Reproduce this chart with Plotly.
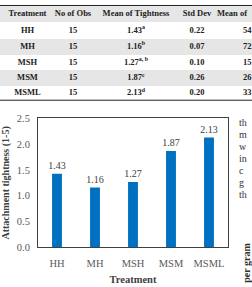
import plotly.graph_objects as go

# ---- data ----
treatments = ["HH", "MH", "MSH", "MSM", "MSML"]
tightness = [1.43, 1.16, 1.27, 1.87, 2.13]
n_obs = ["15", "15", "15", "15", "15"]
mean_labels = ["1.43<sup>a</sup>", "1.16<sup>b</sup>", "1.27<sup>a, b</sup>", "1.87<sup>c</sup>", "2.13<sup>d</sup>"]
std_dev = ["0.22", "0.07", "0.10", "0.26", "0.20"]
mean_other = ["54", "72", "15", "26", "33"]
table_header = ["Treatment", "No of Obs", "Mean of Tightness", "Std Dev", "Mean of"]
side_text = ["th", "m", "w", "in", "c", "g", "th"]

# ---- layout helpers (positions in table-axis units = pixels) ----
W, H = 252, 287
TABLE_H = 99
row_edges = [0, 18, 35, 51.5, 68, 84.5, 99]
col_x = [27.5, 73, 136, 197, 217]
SERIF = "Liberation Serif"
GRAY = "#e6e6e6"

fig = go.Figure()

# table row shading
row_shade = [[1], [0], [1], [0], [1], [0]]
fig.add_trace(go.Heatmap(
    z=row_shade, x=[0, W], y=row_edges,
    colorscale=[[0, "white"], [1, GRAY]], showscale=False,
    hoverinfo="skip", xaxis="x2", yaxis="y2",
))

row_mid = [(row_edges[i] + row_edges[i + 1]) / 2 for i in range(len(row_edges) - 1)]
columns = [treatments, n_obs, mean_labels, std_dev, mean_other]
for ci, col in enumerate(columns):
    texts = ["<b>%s</b>" % table_header[ci]] + ["<b>%s</b>" % v for v in col]
    if ci < 4:
        xs = [col_x[ci]] * len(texts)
        pos = "middle center"
    else:
        xs = [col_x[ci]] + [col_x[ci] + 26] * len(col)
        pos = "middle right"
    fig.add_trace(go.Scatter(
        x=xs, y=row_mid, mode="text", text=texts, textposition=pos,
        textfont=dict(family=SERIF, size=8.5, color="#222222"),
        hoverinfo="skip", xaxis="x2", yaxis="y2", cliponaxis=False,
    ))

# bar chart
fig.add_trace(go.Bar(
    x=treatments, y=tightness,
    marker=dict(color="#0070C0", line=dict(width=0)),
    width=0.26,
    text=["%.2f" % v for v in tightness],
    textposition="outside",
    constraintext="none",
    textfont=dict(family=SERIF, size=10, color="#404040"),
    cliponaxis=False,
))

# side text fragments
for i, t in enumerate(side_text):
    fig.add_annotation(x=237 / W, y=1 - (122 + i * 12.5) / H, xref="paper", yref="paper",
                       text=t, showarrow=False, xanchor="left", yanchor="middle",
                       font=dict(family=SERIF, size=10, color="#333333"))
fig.add_annotation(x=247 / W, y=1 - 268 / H, xref="paper", yref="paper",
                   text="<b>per gram</b>", textangle=-90, showarrow=False,
                   xanchor="center", yanchor="middle",
                   font=dict(family=SERIF, size=10, color="#333333"))

fig.update_layout(
    width=W, height=H, autosize=False,
    margin=dict(l=0, r=0, t=0, b=0),
    paper_bgcolor="white", plot_bgcolor="white",
    showlegend=False,
    xaxis=dict(domain=[38 / W, 228 / W], showline=True, mirror=True,
               linecolor="#404040", linewidth=1, ticks="",
               ticklabelstandoff=6,
               tickfont=dict(family=SERIF, size=10.5, color="#595959"),
               title=dict(text="<b>Treatment</b>", standoff=7,
                          font=dict(family=SERIF, size=10.5, color="#404040"))),
    yaxis=dict(domain=[1 - 252 / H, 1 - 118 / H], range=[0, 2.5], dtick=0.5,
               tickformat=".1f", showline=True, mirror=True,
               linecolor="#404040", linewidth=1, showgrid=False, zeroline=False,
               ticks="", ticklabelstandoff=5,
               tickfont=dict(family=SERIF, size=10.5, color="#595959"),
               title=dict(text="<b>Attachment tightness (1-5)</b>", standoff=5,
                          font=dict(family=SERIF, size=10, color="#404040"))),
    xaxis2=dict(domain=[0, 1], range=[0, W], visible=False, fixedrange=True),
    yaxis2=dict(domain=[1 - TABLE_H / H, 1], range=[TABLE_H, 0], visible=False,
                fixedrange=True),
    shapes=[
        dict(type="line", xref="paper", yref="paper", x0=0, x1=1,
             y0=1 - TABLE_H / H, y1=1 - TABLE_H / H,
             line=dict(color="#222222", width=1)),
        dict(type="line", xref="paper", yref="paper", x0=0, x1=1,
             y0=1 - 0.5 / H, y1=1 - 0.5 / H,
             line=dict(color="#222222", width=1)),
    ],
)

fig.write_html("out.html")
